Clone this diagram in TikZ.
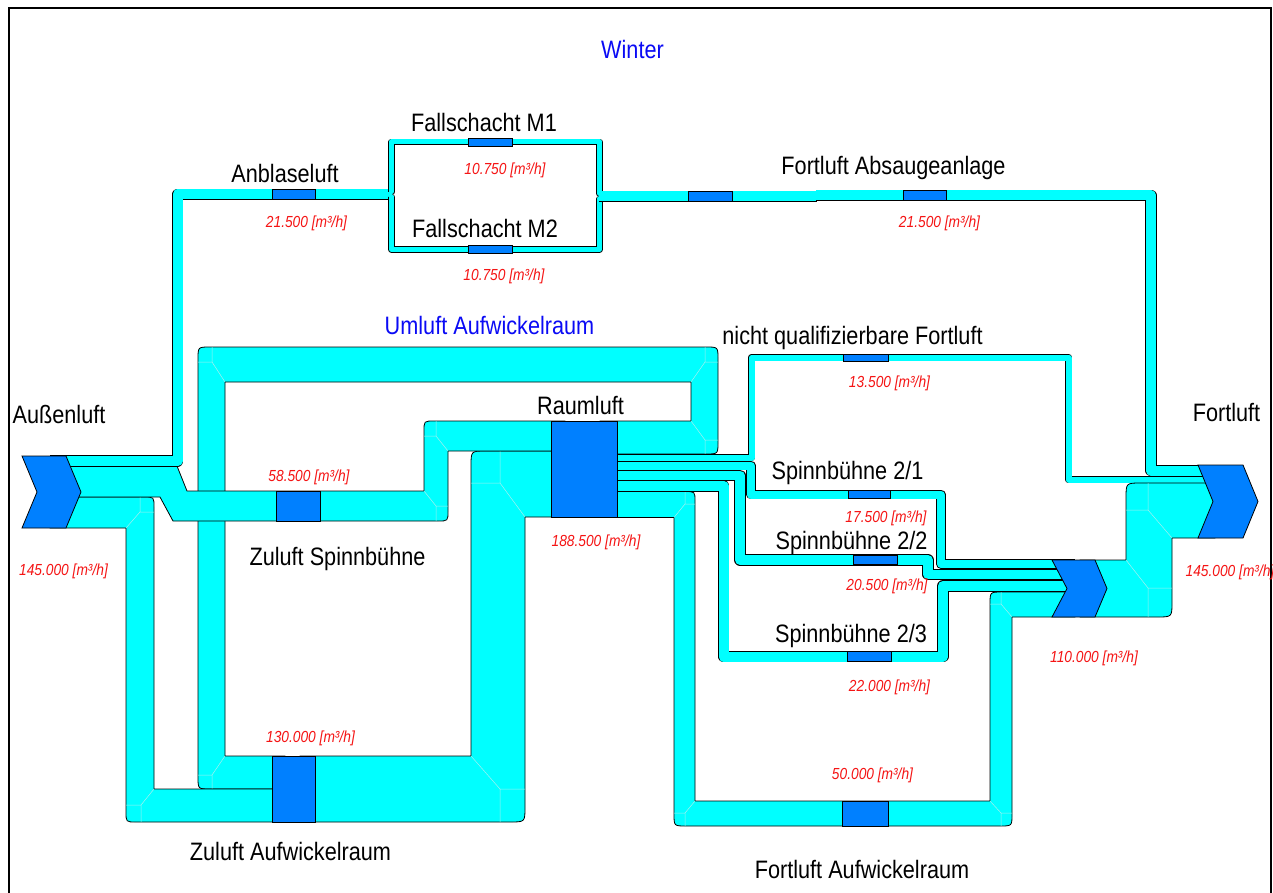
\documentclass[tikz,border=0pt]{standalone}
\usepackage{fontspec}
\setmainfont{Liberation Sans}[FakeStretch=0.86, ItalicFont={Liberation Sans Italic}]
\definecolor{bandcyan}{RGB}{0,255,255}
\definecolor{boxblue}{RGB}{0,128,255}
\definecolor{valred}{RGB}{245,20,20}
\definecolor{titleblue}{RGB}{10,10,245}
\definecolor{mitercol}{RGB}{165,240,240}
\tikzset{
  flow/.style={fill=bandcyan, draw=black, line width=0.8pt, line join=miter},
  thinflow/.style={draw=black, double=bandcyan, line width=0.8pt, line join=round, double distance=#1},
  blk/.style={fill=boxblue, draw=black, line width=0.8pt},
  mit/.style={draw=mitercol, line width=0.5pt},
  lab/.style={font=\fontsize{25.2}{29}\selectfont, anchor=base, inner sep=0pt},
  ttl/.style={font=\fontsize{25.2}{29}\selectfont, anchor=base, inner sep=0pt, text=titleblue},
  val/.style={font=\fontsize{16}{18}\selectfont\itshape, anchor=base, inner sep=0pt, text=valred}
}
\begin{document}
\begin{tikzpicture}[x=1pt,y=-1pt]
\useasboundingbox (0,0) rectangle (1273,893);
\fill[white] (0,0) rectangle (1273,893);
\draw[line width=2pt] (9,8) rectangle (1271,900);

% Umluft loop
\path[flow] (600,421) -- (691,421) -- (691,382) -- (225,382) -- (225,756) -- (285,756) -- (285,789)
  -- (210,789) .. controls (198,789) .. (198,777) -- (198,359) .. controls (198,347) .. (210,347)
  -- (706,347) .. controls (718,347) .. (718,359) -- (718,442) .. controls (718,454) .. (706,454)
  -- (600,454) -- cycle;
\draw[mit] (225,382) -- (212,362) -- (212,347) (212,362) -- (198,362);
\draw[mit] (691,382) -- (705,362) -- (705,347) (705,362) -- (718,362);
\draw[mit] (691,421) -- (705,440) -- (705,454) (705,440) -- (718,440);
\draw[mit] (225,756) -- (212,775) -- (212,789) (212,775) -- (198,775);
% Zuluft Aufwickelraum -> Raumluft
\path[flow] (300,756) -- (471,756) -- (471,466) .. controls (471,451) .. (486,451) -- (565,451)
  -- (565,517) -- (525,517) -- (525,807) .. controls (525,822) .. (510,822) -- (300,822) -- cycle;
\draw[mit] (525,517) -- (500,483) -- (500,451) (500,483) -- (471,483);
\draw[mit] (471,756) -- (500,789) -- (500,822) (500,789) -- (525,789);
% Aussenluft -> Zuluft Aufwickelraum
\path[flow] (50,497) -- (144,497) .. controls (154,497) .. (154,507) -- (154,789) -- (290,789)
  -- (290,822) -- (136,822) .. controls (126,822) .. (126,812) -- (126,528) -- (50,528) -- cycle;
\draw[mit] (126,528) -- (140,512) -- (140,497) (140,512) -- (154,512);
\draw[mit] (154,789) -- (141,805) -- (141,822) (141,805) -- (126,805);
% Aussenluft -> Zuluft Spinnbuehne -> Raumluft
\path[flow] (50,466) -- (177,466) -- (187,491) -- (424,491) -- (424,431) .. controls (424,421) .. (434,421)
  -- (565,421) -- (565,451) -- (448,451) -- (448,511) .. controls (448,521) .. (438,521)
  -- (173,521) -- (160,497) -- (50,497) -- cycle;
\draw[mit] (424,491) -- (436,506) -- (436,521) (436,506) -- (448,506);
\draw[mit] (448,451) -- (436,436) -- (436,421) (436,436) -- (424,436);
% Anblaseluft and Fallschacht
\draw[thinflow=10pt] (50,461) -- (177.5,461) -- (177.5,194.5) -- (389,194.5);
\draw[thinflow=5pt] (389,192) -- (391.5,192) -- (391.5,142) -- (599.5,142) -- (599.5,193.5) -- (603,193.5);
\draw[thinflow=5pt] (389,197) -- (391.5,197) -- (391.5,249.5) -- (599.5,249.5) -- (599.5,199) -- (603,199);
% Fortluft Absaugeanlage
\draw[thinflow=10pt] (599,196.5) -- (817,196.5);
\draw[thinflow=10pt] (816,195.5) -- (1151,195.5) -- (1151,470.5) -- (1215,470.5);
% Fortluft Aufwickelraum
\path[flow] (600,491.5) -- (685,491.5) .. controls (695,491.5) .. (695,501.5) -- (695,801) -- (990,801)
  -- (990,604) .. controls (990,592) .. (1002,592) -- (1075,592) -- (1075,617) -- (1012,617)
  -- (1012,814) .. controls (1012,826) .. (1000,826) -- (686,826) .. controls (674,826) .. (674,814)
  -- (674,517.5) -- (600,517.5) -- cycle;
\draw[mit] (674,517.5) -- (685,504) -- (685,491.5) (685,504) -- (695,504);
\draw[mit] (695,801) -- (685,813) -- (685,826) (685,813) -- (674,813);
\draw[mit] (990,801) -- (1001,813) -- (1001,826) (1001,813) -- (1012,813);
\draw[mit] (1012,617) -- (1001,604) -- (1001,592) (1001,604) -- (990,604);
% Spinnbuehnen and nicht qualifizierbare Fortluft
\draw[thinflow=10pt] (600,486) -- (723.5,486) -- (723.5,656.5) -- (943,656.5) -- (943,586) -- (1075,586);
\draw[thinflow=9.5pt] (600,475.25) -- (740,475.25) -- (740,560) -- (928,560) -- (928,574.5) -- (1075,574.5);
\draw[thinflow=8pt] (600,465.5) -- (751,465.5) -- (751,494.5) -- (941,494.5) -- (941,564) -- (1075,564);
\draw[thinflow=6pt] (600,457.5) -- (751.5,457.5) -- (751.5,357.5) -- (1068.5,357.5) -- (1068.5,479.5) -- (1215,479.5);
% 110.000 -> Fortluft
\path[flow] (1080,560) -- (1126,560) -- (1126,498) .. controls (1126,483) .. (1141,483) -- (1215,483)
  -- (1215,538) -- (1172,538) -- (1172,602) .. controls (1172,617) .. (1157,617) -- (1080,617) -- cycle;
\draw[mit] (1126,560) -- (1148,588) -- (1148,617) (1148,588) -- (1172,588);
\draw[mit] (1172,538) -- (1148,510) -- (1148,483) (1148,510) -- (1126,510);

% chevrons
\path[blk] (22,456) -- (66,456) -- (81,492) -- (66,528) -- (22,528) -- (37,492) -- cycle;
\path[blk] (1052,560) -- (1095,560) -- (1107,588.5) -- (1095,617) -- (1052,617) -- (1067,588.5) -- cycle;
\path[blk] (1198,465) -- (1243,465) -- (1258,501.5) -- (1243,538) -- (1198,538) -- (1213,501.5) -- cycle;

% blocks
\path[blk] (272,189.5) rectangle (315,199.5);
\path[blk] (468,138.5) rectangle (512,146);
\path[blk] (468,245.5) rectangle (512,253.5);
\path[blk] (688,191.5) rectangle (732,201.5);
\path[blk] (903,190.5) rectangle (946,200.5);
\path[blk] (843,354) rectangle (888,361);
\path[blk] (848,490.5) rectangle (890,498.5);
\path[blk] (853,555.25) rectangle (897,564.75);
\path[blk] (847,651.5) rectangle (891,661.5);
\path[blk] (842,801) rectangle (888,826);
\path[blk] (276,491) rectangle (320,521);
\path[blk] (272,756) rectangle (315,822);
\path[blk] (551,421) rectangle (617,517);

% titles
\node[ttl] (tw) at (632.5,59) {Winter};
\node[ttl] (tu) at (489.5,334) {Umluft Aufwickelraum};
% labels
\node[lab] (l1) at (484,132) {Fallschacht M1};
\node[lab] (l2) at (285,183) {Anblaseluft};
\node[lab] (l3) at (485,237) {Fallschacht M2};
\node[lab] (l4) at (893.5,175) {Fortluft Absaugeanlage};
\node[lab] (l5) at (852.5,344) {nicht qualifizierbare Fortluft};
\node[lab] (l6) at (580.5,414) {Raumluft};
\node[lab] (l7) at (59,423) {Außenluft};
\node[lab] (l8) at (1226.5,421) {Fortluft};
\node[lab] (l9) at (847.5,479) {Spinnbühne 2/1};
\node[lab] (l10) at (851.5,549) {Spinnbühne 2/2};
\node[lab] (l11) at (851,642) {Spinnbühne 2/3};
\node[lab] (l12) at (337.5,565) {Zuluft Spinnbühne};
\node[lab] (l13) at (290.5,860) {Zuluft Aufwickelraum};
\node[lab] (l14) at (862,878) {Fortluft Aufwickelraum};
% values
\node[val] (v1) at (505,175) {10.750 [m³/h]};
\node[val] (v2) at (306.5,228) {21.500 [m³/h]};
\node[val] (v3) at (504,280) {10.750 [m³/h]};
\node[val] (v4) at (939.5,228) {21.500 [m³/h]};
\node[val] (v5) at (889.5,387) {13.500 [m³/h]};
\node[val] (v6) at (309,481) {58.500 [m³/h]};
\node[val] (v7) at (886,522) {17.500 [m³/h]};
\node[val] (v8) at (596,546) {188.500 [m³/h]};
\node[val] (v9) at (63.5,575) {145.000 [m³/h]};
\node[val] (v10) at (1230,576) {145.000 [m³/h]};
\node[val] (v11) at (887,590) {20.500 [m³/h]};
\node[val] (v12) at (1094,662) {110.000 [m³/h]};
\node[val] (v13) at (889.5,691) {22.000 [m³/h]};
\node[val] (v14) at (310.5,742) {130.000 [m³/h]};
\node[val] (v15) at (872.5,779) {50.000 [m³/h]};
\end{tikzpicture}
\end{document}
